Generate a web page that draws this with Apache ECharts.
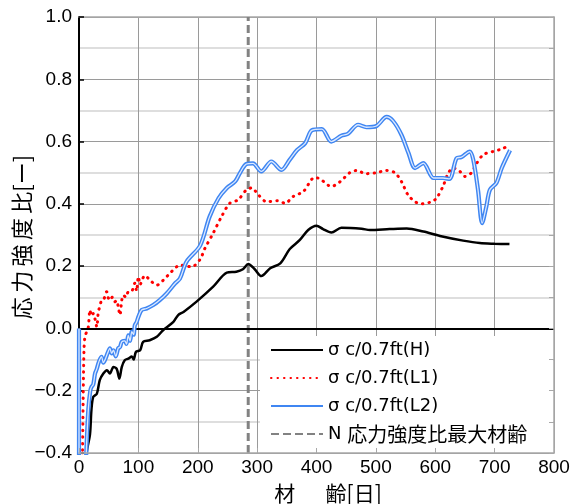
<!DOCTYPE html>
<html>
<head>
<meta charset="utf-8">
<script src="https://cdn.jsdelivr.net/npm/echarts@6/dist/echarts.min.js"></script>
<style>
html,body{margin:0;padding:0;background:#fff;}
#chart{width:575px;height:504px;}
</style>
</head>
<body>
<div id="chart"></div>
<script>
// ---- data ----
const seriesNames = ['σ c/0.7ft(H)', 'σ c/0.7ft(L1)', 'σ c/0.7ft(L2)', 'N 応力強度比最大材齢'];

const hDays = [10, 13, 18.5, 21, 24, 30, 35, 41, 47, 52, 58, 63.5, 68, 72, 77, 83, 89, 92, 96, 103, 108, 119, 131, 142, 159, 167, 176, 198, 226, 249, 265, 276, 285, 296, 307, 322, 339, 355, 372, 386, 400, 411, 425, 442, 476, 490, 523, 552, 580, 608, 647, 675, 700, 725];
const hVals = [-0.6, -0.4, -0.34, -0.26, -0.22, -0.21, -0.166, -0.145, -0.134, -0.145, -0.124, -0.13, -0.161, -0.124, -0.102, -0.097, -0.09, -0.10, -0.075, -0.07, -0.043, -0.038, -0.027, -0.005, 0.021, 0.043, 0.053, 0.086, 0.134, 0.179, 0.182, 0.19, 0.207, 0.19, 0.168, 0.193, 0.209, 0.255, 0.284, 0.316, 0.330, 0.319, 0.308, 0.323, 0.320, 0.316, 0.319, 0.321, 0.311, 0.297, 0.282, 0.274, 0.272, 0.271];

const l1Days = [4, 6, 7, 8.4, 10, 13, 15.7, 18.5, 21, 24, 27, 30, 32.5, 35, 38, 42, 46.5, 49, 52, 56, 60, 63.5, 66, 69, 72, 74.6, 79, 83, 89, 94, 97, 100, 103, 106, 111, 119.5, 131, 142, 153, 164.5, 170, 180, 190, 204, 212, 226, 240, 254, 268, 282, 291, 302, 316, 335, 347, 361, 378, 397, 406, 425, 439, 456, 467, 484, 501, 518, 532, 543, 554, 566, 577, 594, 602, 613, 622, 630, 641, 650, 661, 670, 681, 697, 712, 723];
const l1Vals = [-0.6, -0.39, -0.23, -0.07, -0.027, -0.01, 0.005, 0.059, 0.04, 0.048, 0.03, 0.005, 0.053, 0.07, 0.09, 0.095, 0.118, 0.1, 0.09, 0.1, 0.085, 0.09, 0.07, 0.043, 0.09, 0.107, 0.1, 0.118, 0.12, 0.145, 0.12, 0.166, 0.14, 0.155, 0.17, 0.155, 0.139, 0.155, 0.177, 0.198, 0.204, 0.2, 0.198, 0.222, 0.257, 0.306, 0.359, 0.402, 0.413, 0.445, 0.451, 0.429, 0.407, 0.41, 0.402, 0.424, 0.44, 0.485, 0.48, 0.456, 0.47, 0.50, 0.507, 0.497, 0.50, 0.507, 0.50, 0.472, 0.429, 0.407, 0.40, 0.407, 0.418, 0.456, 0.499, 0.515, 0.505, 0.488, 0.50, 0.531, 0.558, 0.568, 0.576, 0.587];

const l2Days = [0, 0, 11.8, 15.7, 19, 21, 24, 27, 30, 32.5, 35, 38, 41, 44, 48, 52, 55, 58, 62, 66, 69, 72, 77, 80, 83, 86, 89, 92, 94, 97, 100, 105.5, 114, 125, 136, 148, 162, 170, 181, 204, 220, 235, 249, 263, 271, 282, 293, 307, 324, 341, 355, 367, 381, 392, 409, 425, 442, 453, 470, 484, 501, 518, 529, 543, 555, 566, 580, 597, 613, 624, 636, 644, 658, 664, 672, 679, 686, 692, 703, 712, 726];
const l2Vals = [0, -1, -0.42, -0.26, -0.2, -0.188, -0.18, -0.145, -0.13, -0.113, -0.1, -0.091, -0.11, -0.10, -0.08, -0.064, -0.08, -0.07, -0.09, -0.064, -0.06, -0.043, -0.04, -0.05, -0.022, -0.04, -0.01, -0.02, 0.01, 0.02, 0.037, 0.059, 0.064, 0.075, 0.091, 0.113, 0.145, 0.16, 0.214, 0.266, 0.359, 0.418, 0.451, 0.472, 0.499, 0.528, 0.53, 0.504, 0.536, 0.509, 0.542, 0.572, 0.595, 0.636, 0.640, 0.60, 0.619, 0.625, 0.654, 0.646, 0.65, 0.679, 0.666, 0.622, 0.563, 0.515, 0.531, 0.483, 0.483, 0.48, 0.547, 0.55, 0.568, 0.542, 0.445, 0.338, 0.391, 0.445, 0.467, 0.515, 0.572];

const nDay = 285;           // age of max stress-strength ratio
const nRange = [-0.4, 1.0];

const xTicks = [0, 100, 200, 300, 400, 500, 600, 700, 800];
const yTicks = [-0.4, -0.2, 0.0, 0.2, 0.4, 0.6, 0.8, 1.0];

const xTitle = '材\u3000  齢[日]';
const yTitle = '応\u2009力\u2009強\u2009度\u2009比[ー]';

// ---- build ----
const zip = (a, b) => a.map((d, i) => [d, b[i]]);
const FONT = "'Liberation Sans', 'Noto Sans CJK JP', sans-serif";
const LAT = "'DejaVu Sans', sans-serif";
const CJK = "'Noto Sans CJK JP', sans-serif";

const chart = echarts.init(document.getElementById('chart'), null, {renderer: 'canvas'});

const xMin = xTicks[0], xMax = xTicks[xTicks.length - 1], xInt = xTicks[1] - xTicks[0];
const yMin = yTicks[0], yMax = yTicks[yTicks.length - 1], yInt = 0.2;

function legendFmt(name) {
  return name.replace(/([\u3000-\u9fff]+)|([^\u3000-\u9fff]+)/g, (m, cjk, lat) =>
    cjk ? '{b|' + cjk + '}' : '{a|' + lat + '}');
}

chart.setOption({
  animation: false,
  backgroundColor: '#fff',
  grid: {left: 79, right: 21, top: 17, bottom: 51, containLabel: false},
  xAxis: [
    {
      type: 'value', min: xMin, max: xMax, interval: xInt, position: 'bottom', z: 10,
      axisLine: {onZero: false, lineStyle: {color: '#a8a8a8', width: 1.5}},
      axisTick: {inside: true, length: 5, lineStyle: {color: '#a8a8a8'}},
      axisLabel: {color: '#000', fontSize: 19, fontFamily: FONT, margin: 5},
      splitLine: {show: false}
    },
    {
      type: 'value', min: xMin, max: xMax, interval: xInt, position: 'top', z: 0,
      axisLine: {onZero: false, lineStyle: {color: '#a8a8a8', width: 1.5}},
      axisTick: {show: false}, axisLabel: {show: false},
      splitLine: {show: true, lineStyle: {color: '#9a9a9a', width: 1}}
    }
  ],
  yAxis: [
    {
      type: 'value', min: yMin, max: yMax, interval: yInt, position: 'left', z: 0,
      axisLine: {onZero: false, lineStyle: {color: '#000', width: 2}},
      axisTick: {inside: true, length: 5, lineStyle: {color: '#000', width: 1.5}},
      axisLabel: {color: '#000', fontSize: 19, fontFamily: FONT, margin: 7,
        formatter: v => (v < 0 ? '\u2212' : '') + Math.abs(v).toFixed(1)},
      splitLine: {show: true, lineStyle: {color: '#9a9a9a', width: 1}},
      minorTick: {show: false, splitNumber: 2},
      minorSplitLine: {show: true, lineStyle: {color: '#d4d4d4', width: 1.5}}
    },
    {
      type: 'value', min: yMin, max: yMax, interval: 0.1, position: 'right', z: 10,
      axisLine: {show: true, onZero: false, lineStyle: {color: '#a8a8a8', width: 1.5}},
      axisTick: {show: true, inside: true, length: 5, lineStyle: {color: '#a8a8a8'}},
      axisLabel: {show: false},
      splitLine: {show: false}
    }
  ],
  legend: {
    orient: 'vertical', left: 270, top: 340, padding: 0,
    itemWidth: 52, itemHeight: 14, itemGap: 8,
    itemStyle: {opacity: 0, borderWidth: 0},
    data: seriesNames,
    formatter: legendFmt,
    textStyle: {color: '#000', fontSize: 18, fontFamily: LAT, lineHeight: 20,
      rich: {
        a: {fontSize: 18, fontFamily: LAT, color: '#000', lineHeight: 20},
        b: {fontSize: 20, fontFamily: CJK, color: '#000', lineHeight: 20}
      }}
  },
  graphic: [
    {type: 'rect', left: 260, top: 336, shape: {width: 293, height: 115}, style: {fill: '#fff'}, z: 3, silent: true},
    {type: 'text', x: 328, y: 493, style: {text: xTitle, fill: '#000', font: '21px ' + CJK, textAlign: 'center', textVerticalAlign: 'middle'}, z: 5},
    {type: 'text', x: 22, y: 237, rotation: Math.PI / 2, style: {text: yTitle, fill: '#000', font: '22px ' + CJK, textAlign: 'center', textVerticalAlign: 'middle'}, z: 5}
  ],
  series: [
    {
      name: seriesNames[0], type: 'line', data: zip(hDays, hVals), symbol: 'none', smooth: 0.3, z: 4,
      lineStyle: {color: '#000', width: 2.5}, itemStyle: {color: '#000'},
      markLine: {silent: true, symbol: ['none', 'none'], label: {show: false},
        lineStyle: {color: '#000', width: 2, type: 'solid'}, data: [{yAxis: 0}]}
    },
    {
      name: seriesNames[1], type: 'line', data: zip(l1Days, l1Vals), symbol: 'none', smooth: 0.3, z: 3,
      lineStyle: {color: '#ff0000', width: 3, type: [0.5, 6], cap: 'round'}, itemStyle: {color: '#ff0000'}
    },
    {
      name: seriesNames[2], type: 'line', data: zip(l2Days, l2Vals), symbol: 'none', smooth: 0.3, z: 5,
      lineStyle: {color: '#3f86f2', width: 4.2}, itemStyle: {color: '#3f86f2'}
    },
    {
      name: 'L2-inner', type: 'line', data: zip(l2Days, l2Vals), symbol: 'none', smooth: 0.3, z: 6,
      lineStyle: {color: '#dce9ff', width: 1.3}, silent: true, tooltip: {show: false}
    },
    {
      name: seriesNames[3], type: 'line', data: nRange.map(v => [nDay, v]), symbol: 'none', z: 2,
      lineStyle: {color: '#828282', width: 3, type: [8, 4]}, itemStyle: {color: '#828282'}
    }
  ]
});
</script>
</body>
</html>
